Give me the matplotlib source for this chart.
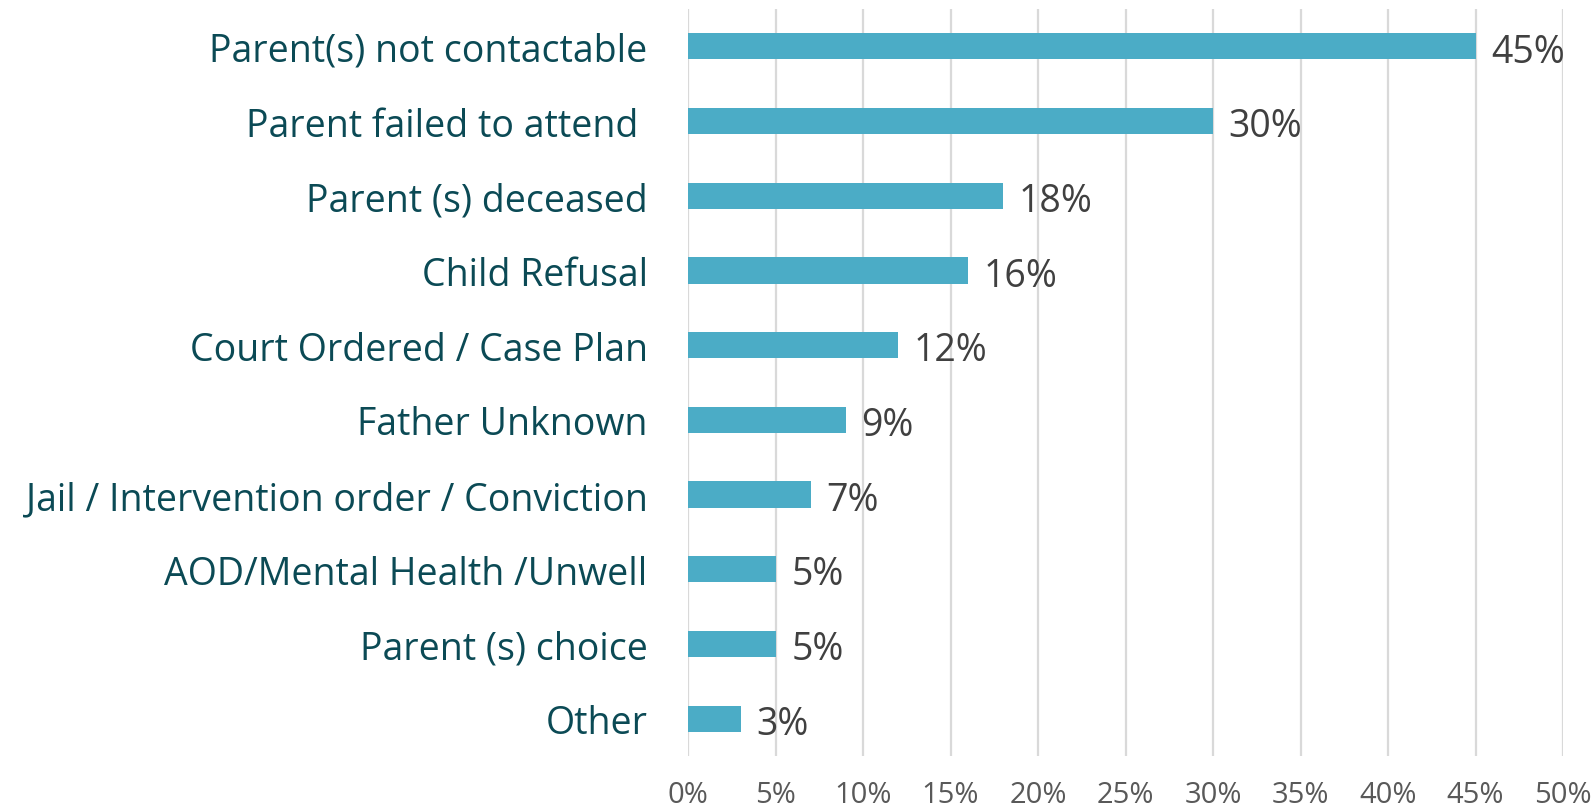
import matplotlib
matplotlib.use("Agg")
import matplotlib.pyplot as plt
from matplotlib.ticker import FuncFormatter

categories = [
    "Parent(s) not contactable",
    "Parent failed to attend ",
    "Parent (s) deceased",
    "Child Refusal",
    "Court Ordered / Case Plan",
    "Father Unknown",
    "Jail / Intervention order / Conviction",
    "AOD/Mental Health /Unwell",
    "Parent (s) choice",
    "Other",
]
values = [45, 30, 18, 16, 12, 9, 7, 5, 5, 3]
x_ticks = [0, 5, 10, 15, 20, 25, 30, 35, 40, 45, 50]

plt.rcParams["font.family"] = ["Open Sans", "DejaVu Sans"]

fig = plt.figure(figsize=(15.93, 8.12), dpi=100)
ax = fig.add_axes([0.4319, 0.0677, 0.5493, 0.92])

ypos = list(range(len(categories)))
ax.barh(ypos, values, height=0.35, color="#4BACC6", zorder=3)

# value labels sit just right of each bar
for y, v in zip(ypos, values):
    ax.text(v + 0.9, y + 0.07, f"{v}%", va="center", ha="left",
            fontsize=27, color="#404040", zorder=4)

ax.set_xlim(0, 50)
ax.set_ylim(len(categories) - 0.5, -0.5)
ax.set_xticks(x_ticks)
ax.xaxis.set_major_formatter(FuncFormatter(lambda v, _: f"{v:.0f}%"))
ax.set_yticks(ypos)
ax.set_yticklabels(categories, fontsize=27, color="#0B4A55")
ax.tick_params(axis="y", length=0, pad=29)
ax.tick_params(axis="x", length=0, pad=17, labelsize=21, labelcolor="#595959")

ax.grid(axis="x", color="#D9D9D9", linewidth=1.6, zorder=0)
for s in ax.spines.values():
    s.set_visible(False)

fig.savefig("out.png", dpi=100)
